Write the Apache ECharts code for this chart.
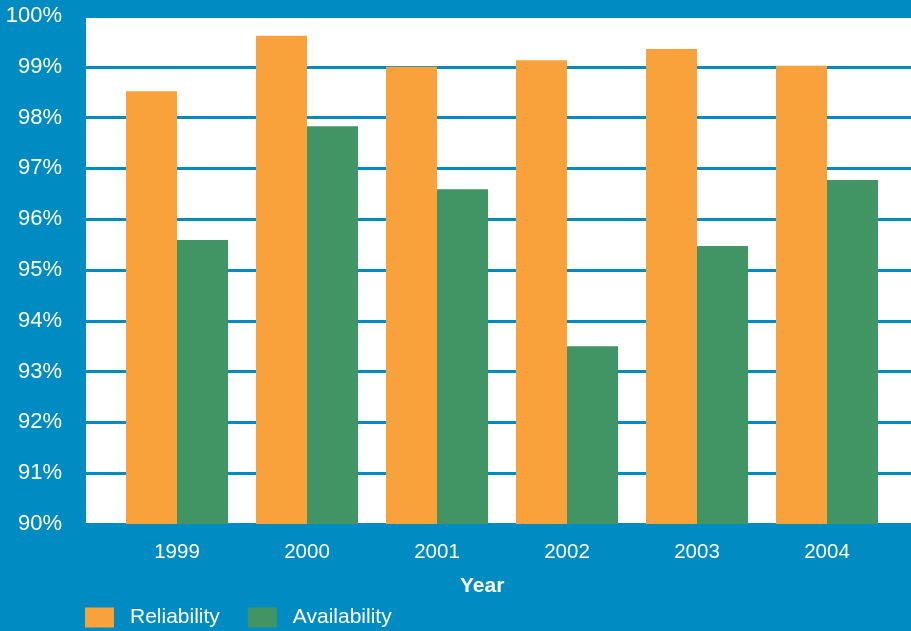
<!DOCTYPE html>
<html>
<head>
<meta charset="utf-8">
<script src="https://cdn.jsdelivr.net/npm/echarts@6/dist/echarts.min.js"></script>
<style>
    html, body { margin: 0; padding: 0; background: #008cc3; }
    #chart { width: 911px; height: 631px; }
</style>
</head>
<body>
<div id="chart"></div>
<script>
    // data
    var years = ['1999', '2000', '2001', '2002', '2003', '2004'];
    var reliability = [98.52, 99.61, 99.0, 99.13, 99.35, 99.02];
    var availability = [95.59, 97.83, 96.59, 93.5, 95.47, 96.77];
    var seriesNames = ['Reliability', 'Availability'];

    var blue = '#008cc3';
    var font = '"Liberation Sans", Arial, Helvetica, sans-serif';

    var option = {
        backgroundColor: blue,
        animation: false,
        title: {
            text: 'Year',
            left: 460,
            top: 576,
            padding: 0,
            textStyle: { color: '#fff', fontSize: 21, fontWeight: 'bold', fontFamily: font }
        },
        legend: {
            left: 85,
            top: 607,
            padding: 0,
            itemWidth: 29,
            itemHeight: 20,
            itemGap: 28,
            icon: 'rect',
            textStyle: { color: '#fff', fontSize: 21, fontFamily: font, padding: [8, 0, 0, 11] },
            data: seriesNames
        },
        grid: [
            // full white plot area with the gridlines
            { left: 86, right: 0, top: 16, bottom: 107, backgroundColor: '#fff', show: true, borderWidth: 0 },
            // narrower grid that holds the bars
            { left: 112, right: 19, top: 16, bottom: 107 }
        ],
        xAxis: [
            { gridIndex: 0, type: 'value', min: 0, max: 1, show: false },
            {
                gridIndex: 1,
                type: 'category',
                data: years,
                axisLine: { show: false },
                axisTick: { show: false },
                axisLabel: { color: '#fff', fontSize: 20.5, fontFamily: font, margin: 18 }
            }
        ],
        yAxis: [
            {
                gridIndex: 0,
                type: 'value',
                min: 90,
                max: 100,
                interval: 1,
                axisLine: { show: false },
                axisTick: { show: false },
                axisLabel: { color: '#fff', fontSize: 22, fontFamily: font, margin: 24, padding: [5, 0, 0, 0], formatter: '{value}%' },
                splitLine: { lineStyle: { color: blue, width: 3 } }
            },
            { gridIndex: 1, type: 'value', min: 90, max: 100, show: false }
        ],
        series: [
            {
                name: seriesNames[0],
                type: 'bar',
                xAxisIndex: 1,
                yAxisIndex: 1,
                barWidth: 51,
                barGap: '0%',
                data: reliability,
                itemStyle: { color: '#f9a13a' }
            },
            {
                name: seriesNames[1],
                type: 'bar',
                xAxisIndex: 1,
                yAxisIndex: 1,
                barWidth: 51,
                barGap: '0%',
                data: availability,
                itemStyle: { color: '#419463' }
            }
        ]
    };

    echarts.init(document.getElementById('chart')).setOption(option);
</script>
</body>
</html>
